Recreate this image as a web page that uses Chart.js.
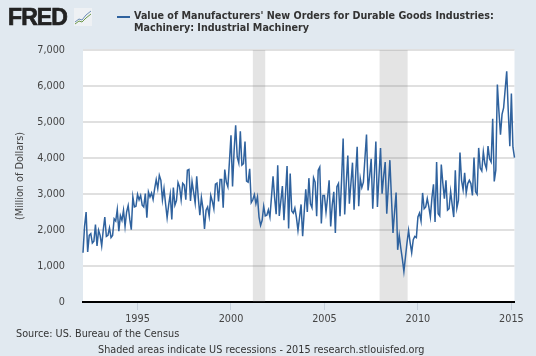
<!DOCTYPE html>
<html>
<head>
<meta charset="utf-8">
<title>FRED Industrial Machinery New Orders</title>
<script src="https://cdn.jsdelivr.net/npm/chart.js@4"></script>
<style>
  html, body { margin: 0; padding: 0; background: #e1e9f0; }
  #wrap { position: relative; width: 536px; height: 356px; overflow: hidden; background: #e1e9f0; font-family: "DejaVu Sans", sans-serif; color: #333; }
  canvas { position: absolute; left: 0; top: 0; }
  .txt { position: absolute; white-space: nowrap; }
  #logo { left: 8px; top: 4px; font: bold 23px/26px "Liberation Sans", sans-serif; letter-spacing: -0.9px; color: #222; -webkit-text-stroke: 0.7px #222; }
  #icon { position: absolute; left: 74px; top: 8px; }
  #dash { position: absolute; left: 117px; top: 16px; width: 13px; height: 2px; background: #2f629e; }
  #title { left: 134px; top: 10px; font-size: 9.6px; font-weight: bold; line-height: 12.4px; color: #333; }
  #source { left: 16px; top: 327px; font-size: 9.7px; line-height: 14px; }
  #note { left: 98px; top: 343px; font-size: 9.7px; line-height: 14px; }
</style>
</head>
<body>
<div id="wrap">
  <canvas id="chart" width="536" height="356"></canvas>
  <div class="txt" id="logo">FRED</div>
  <svg id="icon" width="18" height="18" viewBox="0 0 18 18">
    <rect x="0" y="0" width="18" height="18" fill="#eef1f4"/>
    <polyline points="1,14 5,11 8,12 12,7 17,3" fill="none" stroke="#6d8fb5" stroke-width="1"/>
    <polyline points="1,16 5,13 8,14 12,10 17,6" fill="none" stroke="#6e9a4a" stroke-width="1"/>
  </svg>
  <div id="dash"></div>
  <div class="txt" id="title">Value of Manufacturers' New Orders for Durable Goods Industries:<br>Machinery: Industrial Machinery</div>
  <div class="txt" id="source">Source: US. Bureau of the Census</div>
  <div class="txt" id="note">Shaded areas indicate US recessions - 2015 research.stlouisfed.org</div>
</div>
<script>
// monthly values starting Feb 1992
const firstYear = 1992;
const firstMonth = 1;
const orders = [
  1370, 2100, 2500, 1390, 1850, 1900, 1640, 1690, 2150, 1560, 1990, 1850,
  1560, 2000, 2360, 1820, 1850, 2060, 1790, 1850, 2310, 2250, 2570, 1970,
  2400, 2270, 2550, 2100, 2500, 2680, 2300, 2010, 2920, 2640, 2660, 2990,
  2840, 2960, 2690, 2640, 3010, 2340, 3060, 2920, 3030, 2850, 3150, 3400,
  3150, 3520, 3380, 2840, 3150, 2730, 2340, 2700, 2990, 2290, 3180, 2690,
  2820, 3320, 3200, 2840, 3300, 3250, 2840, 3660, 3680, 2810, 3350, 3050,
  2750, 3490, 2900, 2410, 2900, 2600, 2030, 2550, 2640, 2380, 2960, 2800,
  2590, 3270, 3300, 2790, 3400, 3400, 2620, 3680, 3330, 3200, 3900, 4630,
  3210, 4200, 4910, 4030, 3860, 4740, 3800, 3840, 4460, 3360, 3330, 3700,
  2760, 2840, 2980, 2730, 2920, 2360, 2130, 2270, 2660, 2390, 2410, 2560,
  2360, 2920, 3490, 2900, 2440, 3800, 2390, 2800, 3220, 2270, 3000, 3780,
  2040, 3570, 2530, 2470, 2610, 2350, 1990, 2350, 2710, 1830, 2500, 3130,
  2500, 3440, 2730, 2620, 3450, 3330, 2380, 3660, 3750, 2180, 2960, 2960,
  2500, 2900, 3380, 2100, 2700, 3060, 1920, 3200, 3290, 2380, 3400, 4540,
  2430, 3300, 4070, 2730, 3300, 3870, 2560, 3500, 4310, 2660, 3430, 3180,
  3330, 4000, 4650, 3100, 3500, 3980, 2590, 3500, 4460, 2640, 3500, 4280,
  3010, 3500, 3890, 2450, 3200, 3940, 2900, 1920, 2500, 3040, 1450, 1850,
  1500, 1200, 850, 1250, 1650, 1990, 1650, 1370, 1730, 1820, 1790, 2360,
  2470, 2250, 3030, 2590, 2640, 2870, 2640, 2360, 2900, 3270, 2220, 3890,
  2450, 2390, 3820, 3300, 2870, 3380, 2550, 2590, 3070, 2700, 2360, 3660,
  2610, 2820, 4150, 3380, 3120, 3590, 3030, 3290, 3380, 3290, 2960, 4010,
  3060, 2990, 4280, 3720, 3640, 4170, 3840, 3700, 4330, 3980, 3890, 5090,
  3350, 3660, 6040, 5300, 4650, 5210, 5390, 5900, 6410, 5300, 4330, 5790,
  4300, 4010
];
const yearTicks = [1995, 2000, 2005, 2010, 2015];
const recessions = [[2001.17, 2001.83], [2007.95, 2009.45]];

const points = orders.map((v, i) => ({ x: firstYear + (firstMonth + i) / 12, y: v }));

const plotBackground = {
  id: 'plotBackground',
  beforeDraw(chart) {
    const { ctx, chartArea: a } = chart;
    ctx.save();
    ctx.fillStyle = '#ffffff';
    ctx.fillRect(a.left, a.top, a.right - a.left, a.bottom - a.top);
    ctx.restore();
  },
  beforeDatasetsDraw(chart) {
    const { ctx, chartArea: a, scales } = chart;
    ctx.save();
    ctx.fillStyle = 'rgba(120,120,120,0.2)';
    recessions.forEach(([from, to]) => {
      const x0 = scales.x.getPixelForValue(from);
      const x1 = scales.x.getPixelForValue(to);
      ctx.fillRect(x0, a.top, x1 - x0, a.bottom - a.top);
    });
    ctx.restore();
  }
};

new Chart(document.getElementById('chart'), {
  type: 'line',
  data: {
    datasets: [{
      label: 'Industrial Machinery',
      data: points,
      borderColor: '#2f629e',
      borderWidth: 1.5,
      pointRadius: 0,
      tension: 0,
      clip: false
    }]
  },
  options: {
    responsive: false,
    animation: false,
    devicePixelRatio: 1,
    layout: { padding: { top: 50, right: 21.5, left: 0, bottom: 0 } },
    plugins: { legend: { display: false }, tooltip: { enabled: false } },
    scales: {
      x: {
        type: 'linear',
        min: firstYear + firstMonth / 12,
        max: firstYear + (firstMonth + orders.length - 1) / 12,
        afterBuildTicks(scale) { scale.ticks = yearTicks.map(v => ({ value: v })); },
        afterFit(scale) { scale.height = 54; },
        grid: { drawOnChartArea: false, tickLength: 8, tickColor: '#c5d0dc', tickWidth: 1 },
        border: { color: '#000000', width: 2 },
        ticks: {
          color: '#444',
          font: { family: '"DejaVu Sans"', size: 9.7 },
          padding: 4,
          maxRotation: 0,
          autoSkip: false,
          callback: v => String(v)
        }
      },
      y: {
        min: 0,
        max: 7000,
        afterFit(scale) { scale.width = 83; },
        grid: { color: '#e0e0e0', lineWidth: 2, drawTicks: false },
        border: { display: false },
        ticks: {
          color: '#444',
          stepSize: 1000,
          padding: 18,
          font: { family: '"DejaVu Sans"', size: 9.7 },
          callback: v => v.toLocaleString('en-US')
        },
        title: {
          display: true,
          text: '(Million of Dollars)',
          color: '#444',
          font: { family: '"DejaVu Sans"', size: 9.7 },
          padding: { top: 15, bottom: 0 }
        }
      }
    }
  },
  plugins: [plotBackground]
});
</script>
</body>
</html>
